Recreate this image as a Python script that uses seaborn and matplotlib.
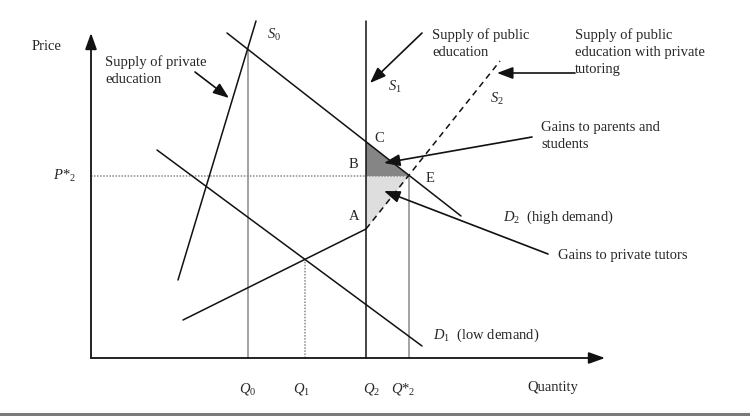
import matplotlib
matplotlib.use("Agg")
import matplotlib.pyplot as plt
import seaborn as sns
import numpy as np

# ---- data (diagram units: quantity to the right, price upward) ----
S0_q = [87, 165];  S0_p = [78, 337]          # supply of private education
D2_q = [136, 370]; D2_p = [325, 142]         # high demand
D1_q = [66, 331];  D1_p = [208, 12]          # low demand
S2_low_q = [92, 275];  S2_low_p = [38, 129]  # lower solid part of S2
S2_dash_q = [275, 409]; S2_dash_p = [129, 297]  # dashed part of S2
S1_q = 275; S1_top = 337
Q0, P0 = 157, 309
Q1, P1 = 214, 99
Q2s, P2s = 318, 182
C_p = 217
A_p = 129
y_axis_top = 325
x_axis_end = 514

q_labels = ["$Q_0$", "$Q_1$", "$Q_2$", "$Q$*$_2$"]
q_label_x = [157, 211, 281, 312]

sns.set_theme(style="white")
plt.rcParams['font.family'] = ['Liberation Serif', 'DejaVu Serif']
plt.rcParams['mathtext.fontset'] = 'custom'
plt.rcParams['mathtext.rm'] = 'Liberation Serif'
plt.rcParams['mathtext.it'] = 'Liberation Serif:italic'

fig = plt.figure(figsize=(7.5, 4.16), dpi=100)
ax = fig.add_axes([0, 0, 1, 1])
ax.set_xlim(-91, 659)
ax.set_ylim(-58, 358)
ax.axis('off')

LW = 1.1
K = '#111111'
G = '#8a8a8a'
FS = 10.5
LS = 1.4

# shaded triangles
ax.fill([S1_q, S1_q, Q2s], [C_p, P2s, P2s], color='#858585', lw=0, zorder=1)
ax.fill([S1_q, Q2s, S1_q], [P2s, P2s, A_p], color='#dedede', lw=0, zorder=1)

# axes with arrows
ax.annotate('', xy=(0, y_axis_top), xytext=(0, 0),
            arrowprops=dict(arrowstyle='-|>,head_length=0.7,head_width=0.25', color=K, lw=1.3, mutation_scale=14, shrinkA=0, shrinkB=0))
ax.annotate('', xy=(x_axis_end, 0), xytext=(0, 0),
            arrowprops=dict(arrowstyle='-|>,head_length=0.7,head_width=0.25', color=K, lw=1.3, mutation_scale=14, shrinkA=0, shrinkB=0))

# curves
for qs, ps in [(S0_q, S0_p), (D2_q, D2_p), (D1_q, D1_p), (S2_low_q, S2_low_p)]:
    sns.lineplot(x=qs, y=ps, ax=ax, color=K, lw=LW, estimator=None, sort=False, zorder=3)
sns.lineplot(x=S2_dash_q, y=S2_dash_p, ax=ax, color=K, lw=LW, estimator=None, sort=False,
             linestyle=(0, (4, 3)), zorder=3)
ax.plot([S1_q, S1_q], [0, S1_top], color=K, lw=LW, zorder=3)

# reference lines
ax.plot([Q0, Q0], [0, P0], color=G, lw=LW, zorder=2)
ax.plot([Q2s, Q2s], [0, P2s], color=G, lw=LW, zorder=2)
ax.plot([Q1, Q1], [0, P1], color=G, lw=LW, linestyle=(0, (1, 1)), zorder=2)
ax.plot([0, Q2s], [P2s, P2s], color=G, lw=LW, linestyle=(0, (1, 1)), zorder=2)

# bottom border
ax.plot([-91, 659], [-56, -56], color='#7a7a7a', lw=2.2, clip_on=False)

# texts
ax.text(-59, 311, "Price", fontsize=FS, ha='left', va='center')
ax.text(-38, 182, "$P$*$_2$", fontsize=FS, ha='left', va='center')
ax.text(176, 323, "$S_0$", fontsize=FS, ha='left', va='center')
ax.text(297, 271, "$S_1$", fontsize=FS, ha='left', va='center')
ax.text(399, 259, "$S_2$", fontsize=FS, ha='left', va='center')
ax.text(14, 303, "Supply of private\neducation", fontsize=FS, ha='left', va='top', linespacing=LS)
ax.text(341, 330, "Supply of public\neducation", fontsize=FS, ha='left', va='top', linespacing=LS)
ax.text(484, 330, "Supply of public\neducation with private\ntutoring", fontsize=FS, ha='left', va='top', linespacing=LS)
ax.text(450, 237, "Gains to parents and\nstudents", fontsize=FS, ha='left', va='top', linespacing=LS)
ax.text(467, 102, "Gains to private tutors", fontsize=FS, ha='left', va='center')
ax.text(412, 141, "$D_2$  (high demand)", fontsize=FS, ha='left', va='center')
ax.text(342, 23, "$D_1$  (low demand)", fontsize=FS, ha='left', va='center')
ax.text(288, 220, "C", fontsize=FS, ha='center', va='center')
ax.text(262, 194, "B", fontsize=FS, ha='center', va='center')
ax.text(339, 180, "E", fontsize=FS, ha='center', va='center')
ax.text(263, 141, "A", fontsize=FS, ha='center', va='center')
for lab, xq in zip(q_labels, q_label_x):
    ax.text(xq, -31, lab, fontsize=FS, ha='center', va='center')
ax.text(462, -30, "Quantity", fontsize=FS, ha='center', va='center')

# pointer arrows
arrows = [((104, 286), (138, 260)),
          ((331, 325), (279, 275)),
          ((484, 285), (406, 285)),
          ((441, 221), (293, 195)),
          ((457, 104), (293, 167))]
for start, end in arrows:
    ax.annotate('', xy=end, xytext=start,
                arrowprops=dict(arrowstyle='-|>,head_length=0.8,head_width=0.3', color=K, lw=1.2,
                                mutation_scale=12, shrinkA=0, shrinkB=0), zorder=4)

fig.savefig("out.png", dpi=100, facecolor='white')
